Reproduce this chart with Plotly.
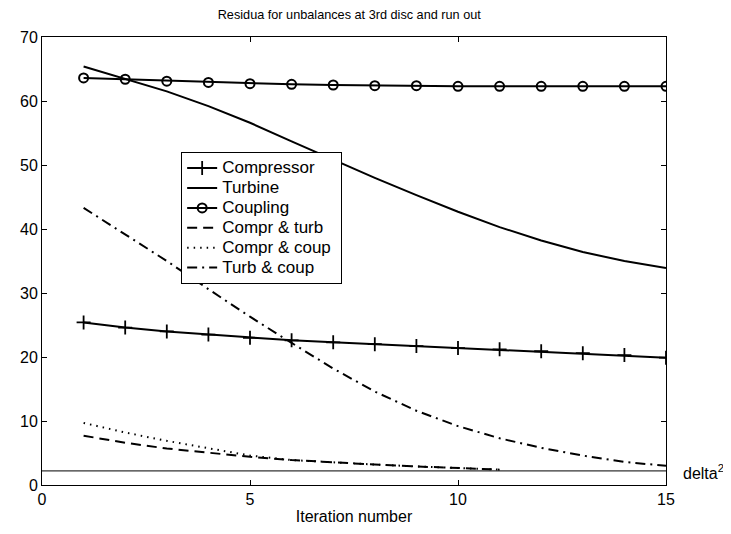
import plotly.graph_objects as go

iterations = list(range(1, 16))
compressor = [25.4, 24.6, 24.0, 23.5, 23.0, 22.6, 22.3, 22.0, 21.7, 21.4, 21.2, 20.9, 20.6, 20.3, 19.9]
turbine = [65.4, 63.5, 61.5, 59.2, 56.6, 53.7, 50.8, 48.0, 45.3, 42.7, 40.3, 38.2, 36.4, 35.0, 33.9]
coupling = [63.6, 63.4, 63.1, 62.9, 62.7, 62.6, 62.5, 62.4, 62.4, 62.3, 62.3, 62.3, 62.3, 62.3, 62.3]
compr_turb_x = list(range(1, 12))
compr_turb = [7.7, 6.6, 5.7, 5.0, 4.4, 3.9, 3.5, 3.2, 2.9, 2.6, 2.4]
compr_coup_x = list(range(1, 12))
compr_coup = [9.7, 8.2, 6.9, 5.7, 4.6, 3.9, 3.5, 3.2, 2.9, 2.6, 2.4]
turb_coup = [43.3, 39.2, 35.0, 30.6, 26.3, 22.2, 18.2, 14.6, 11.6, 9.2, 7.3, 5.8, 4.6, 3.6, 3.0]
delta_x = [0, 15]
delta_sq = [2.2, 2.2]
legend_names = ["Compressor", "Turbine", "Coupling", "Compr & turb", "Compr & coup", "Turb & coup"]

FONT = "Liberation Sans, Arial, Helvetica, sans-serif"


def big(name):
    return '<span style="font-size:17px">' + name + "&nbsp;</span>"


fig = go.Figure()
fig.add_trace(go.Scatter(x=iterations, y=compressor, name=big(legend_names[0]), mode="lines+markers",
                         line=dict(color="black", width=2),
                         marker=dict(symbol="cross-thin", size=10, line=dict(color="black", width=1.8))))
fig.add_trace(go.Scatter(x=iterations, y=turbine, name=big(legend_names[1]), mode="lines",
                         line=dict(color="black", width=2)))
fig.add_trace(go.Scatter(x=iterations, y=coupling, name=big(legend_names[2]), mode="lines+markers",
                         line=dict(color="black", width=2),
                         marker=dict(symbol="circle-open", size=9, color="black", line=dict(color="black", width=2))))
fig.add_trace(go.Scatter(x=compr_turb_x, y=compr_turb, name=big(legend_names[3]), mode="lines",
                         line=dict(color="black", width=2, dash="10px,6px")))
fig.add_trace(go.Scatter(x=compr_coup_x, y=compr_coup, name=big(legend_names[4]), mode="lines",
                         line=dict(color="black", width=2, dash="1.5px,5px")))
fig.add_trace(go.Scatter(x=iterations, y=turb_coup, name=big(legend_names[5]), mode="lines",
                         line=dict(color="black", width=2, dash="10px,5px,2px,5px")))
fig.add_trace(go.Scatter(x=delta_x, y=delta_sq, mode="lines", showlegend=False,
                         line=dict(color="black", width=1)))

fig.add_annotation(x=1, xref="paper", y=delta_sq[0], yref="y", text="delta<sup>2</sup>",
                   showarrow=False, xanchor="left", yanchor="middle", xshift=15, yshift=-1,
                   font=dict(family=FONT, size=16, color="black"))

axis_common = dict(showline=True, linecolor="black", linewidth=1, mirror="allticks",
                   ticks="inside", ticklen=5, tickcolor="black", showgrid=False, zeroline=False,
                   tickfont=dict(family=FONT, size=16, color="black"))

fig.update_xaxes(range=[0, 15], dtick=5, tick0=0,
                 title=dict(text="Iteration number", font=dict(family=FONT, size=16, color="black"), standoff=3),
                 **axis_common)
fig.update_yaxes(range=[0, 70], dtick=10, tick0=0, **axis_common)

# The page body has an 8px default margin: the figure is offset by it in the window.
fig.update_layout(
    width=723, height=526,
    margin=dict(l=30, r=65, t=29, b=49),
    paper_bgcolor="white", plot_bgcolor="white",
    title=dict(text="Residua for unbalances at 3rd disc and run out", x=0.472, xanchor="center",
               y=0.987, yanchor="middle", font=dict(family=FONT, size=12.7, color="black")),
    legend=dict(x=0.223, y=0.743, xanchor="left", yanchor="top", bgcolor="white",
                bordercolor="black", borderwidth=1,
                font=dict(family=FONT, size=13, color="black"), tracegroupgap=0),
    font=dict(family=FONT, color="black"),
)

fig.write_html("out.html")
